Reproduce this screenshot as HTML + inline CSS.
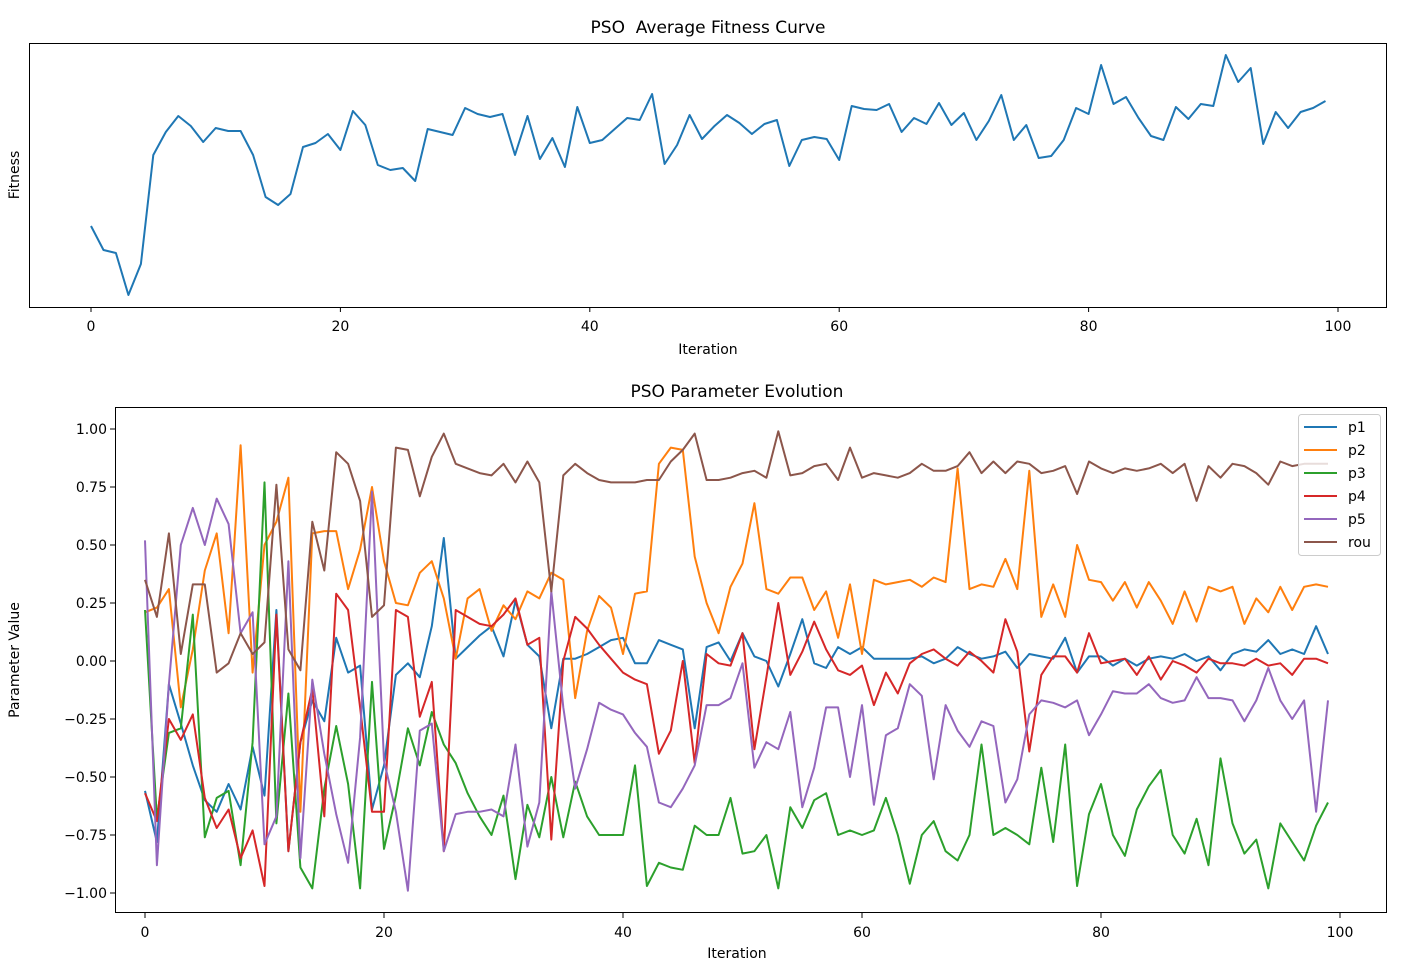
<!DOCTYPE html>
<html><head><meta charset="utf-8"><style>
body{margin:0;background:#fff}
svg text{font-family:"DejaVu Sans","Liberation Sans",sans-serif;fill:#000}
</style></head><body>
<svg id="s" width="1419" height="969" xmlns="http://www.w3.org/2000/svg"></svg>
<script>
const S=document.getElementById('s');let h='';
const fit=[226,250,253,295,264,155,132,116,126,142,128,131,131,155,197,205,194,147,143,134,150,111,125,165,170,168,181,129,132,135,108,114,117,114,155,116,159,138,167,107,143,140,129,118,120,94,164,145,115,139,126,115,123,134,124,120,166,140,137,139,160,106,109,110,104,132,118,124,103,125,113,140,121,95,140,125,158,156,140,108,114,65,104,97,118,136,140,107,119,104,106,55,82,68,144,112,128,112,108,101];
h+='<rect x="29.5" y="43.5" width="1357" height="264" fill="none" stroke="#000" stroke-width="1"/>';
h+='<polyline fill="none" stroke="#1f77b4" stroke-width="2" stroke-linejoin="round" points="'+fit.map((v,i)=>(91+i*12.47).toFixed(1)+','+v).join(' ')+'"/>';
for(let k=0;k<=5;k++){const x=91+k*249.4;h+=`<line x1="${x}" y1="307" x2="${x}" y2="312" stroke="#000"/><text x="${x}" y="331" font-size="14" text-anchor="middle">${k*20}</text>`;}
h+='<text x="708" y="33" font-size="17" text-anchor="middle">PSO&#160; Average Fitness Curve</text>';
h+='<text x="708" y="354" font-size="14" text-anchor="middle">Iteration</text>';
h+='<text transform="translate(19,175) rotate(-90)" font-size="14" text-anchor="middle">Fitness</text>';
const D={
p1:[-0.56,-0.78,-0.10,-0.27,-0.45,-0.60,-0.65,-0.53,-0.64,-0.37,-0.58,0.22,-0.82,-0.35,-0.17,-0.26,0.10,-0.05,-0.02,-0.64,-0.45,-0.06,-0.01,-0.07,0.15,0.53,0.01,0.06,0.11,0.15,0.02,0.26,0.07,0.02,-0.29,0.01,0.01,0.03,0.06,0.09,0.10,-0.01,-0.01,0.09,0.07,0.05,-0.29,0.06,0.08,0.00,0.12,0.02,0.00,-0.11,0.03,0.18,-0.01,-0.03,0.06,0.03,0.06,0.01,0.01,0.01,0.01,0.02,-0.01,0.01,0.06,0.03,0.01,0.02,0.04,-0.03,0.03,0.02,0.01,0.10,-0.05,0.02,0.02,-0.02,0.01,-0.02,0.01,0.02,0.01,0.03,0.00,0.02,-0.04,0.03,0.05,0.04,0.09,0.03,0.05,0.03,0.15,0.03],
p2:[0.21,0.23,0.31,-0.20,0.05,0.39,0.55,0.12,0.93,-0.05,0.50,0.60,0.79,-0.65,0.55,0.56,0.56,0.31,0.48,0.75,0.43,0.25,0.24,0.38,0.43,0.27,0.01,0.27,0.31,0.13,0.24,0.18,0.30,0.27,0.38,0.35,-0.16,0.13,0.28,0.23,0.03,0.29,0.30,0.85,0.92,0.91,0.45,0.25,0.12,0.32,0.42,0.68,0.31,0.29,0.36,0.36,0.22,0.30,0.10,0.33,0.03,0.35,0.33,0.34,0.35,0.32,0.36,0.34,0.83,0.31,0.33,0.32,0.44,0.31,0.82,0.19,0.33,0.19,0.50,0.35,0.34,0.26,0.34,0.23,0.34,0.26,0.16,0.30,0.17,0.32,0.30,0.32,0.16,0.27,0.21,0.32,0.22,0.32,0.33,0.32],
p3:[0.22,-0.68,-0.31,-0.29,0.20,-0.76,-0.59,-0.56,-0.88,-0.35,0.77,-0.70,-0.14,-0.89,-0.98,-0.55,-0.28,-0.53,-0.98,-0.09,-0.81,-0.58,-0.29,-0.45,-0.22,-0.36,-0.44,-0.57,-0.67,-0.75,-0.58,-0.94,-0.62,-0.76,-0.50,-0.76,-0.52,-0.67,-0.75,-0.75,-0.75,-0.45,-0.97,-0.87,-0.89,-0.90,-0.71,-0.75,-0.75,-0.59,-0.83,-0.82,-0.75,-0.98,-0.63,-0.72,-0.60,-0.57,-0.75,-0.73,-0.75,-0.73,-0.59,-0.75,-0.96,-0.75,-0.69,-0.82,-0.86,-0.75,-0.36,-0.75,-0.72,-0.75,-0.79,-0.46,-0.78,-0.36,-0.97,-0.66,-0.53,-0.75,-0.84,-0.64,-0.54,-0.47,-0.75,-0.83,-0.68,-0.88,-0.42,-0.70,-0.83,-0.77,-0.98,-0.70,-0.78,-0.86,-0.71,-0.61],
p4:[-0.57,-0.69,-0.25,-0.34,-0.23,-0.59,-0.72,-0.64,-0.85,-0.73,-0.97,0.20,-0.82,-0.35,-0.12,-0.67,0.29,0.22,-0.20,-0.65,-0.65,0.22,0.19,-0.24,-0.09,-0.82,0.22,0.19,0.16,0.15,0.20,0.27,0.07,0.10,-0.77,0.00,0.19,0.14,0.07,0.01,-0.05,-0.08,-0.10,-0.40,-0.30,0.00,-0.44,0.03,-0.01,-0.02,0.12,-0.38,-0.07,0.25,-0.06,0.04,0.17,0.05,-0.04,-0.06,-0.02,-0.19,-0.05,-0.14,-0.01,0.03,0.05,0.01,-0.02,0.04,0.00,-0.05,0.18,0.04,-0.39,-0.06,0.02,0.02,-0.05,0.12,-0.01,0.00,0.01,-0.06,0.02,-0.08,0.00,-0.02,-0.05,0.01,-0.01,-0.01,-0.02,0.01,-0.02,-0.01,-0.06,0.01,0.01,-0.01],
p5:[0.52,-0.88,-0.10,0.50,0.66,0.50,0.70,0.59,0.12,0.21,-0.79,-0.67,0.43,-0.85,-0.08,-0.40,-0.66,-0.87,-0.33,0.73,-0.43,-0.65,-0.99,-0.30,-0.27,-0.82,-0.66,-0.65,-0.65,-0.64,-0.67,-0.36,-0.80,-0.61,0.30,-0.20,-0.55,-0.38,-0.18,-0.21,-0.23,-0.31,-0.37,-0.61,-0.63,-0.55,-0.45,-0.19,-0.19,-0.16,-0.01,-0.46,-0.35,-0.38,-0.22,-0.63,-0.46,-0.20,-0.20,-0.50,-0.19,-0.62,-0.32,-0.29,-0.10,-0.15,-0.51,-0.19,-0.30,-0.37,-0.26,-0.28,-0.61,-0.51,-0.23,-0.17,-0.18,-0.20,-0.17,-0.32,-0.23,-0.13,-0.14,-0.14,-0.10,-0.16,-0.18,-0.17,-0.07,-0.16,-0.16,-0.17,-0.26,-0.17,-0.03,-0.17,-0.25,-0.17,-0.65,-0.17],
rou:[0.35,0.19,0.55,0.03,0.33,0.33,-0.05,-0.01,0.12,0.03,0.08,0.76,0.05,-0.04,0.60,0.39,0.90,0.85,0.69,0.19,0.24,0.92,0.91,0.71,0.88,0.98,0.85,0.83,0.81,0.80,0.85,0.77,0.86,0.77,0.30,0.80,0.85,0.81,0.78,0.77,0.77,0.77,0.78,0.78,0.86,0.91,0.98,0.78,0.78,0.79,0.81,0.82,0.79,0.99,0.80,0.81,0.84,0.85,0.78,0.92,0.79,0.81,0.80,0.79,0.81,0.85,0.82,0.82,0.84,0.90,0.81,0.86,0.81,0.86,0.85,0.81,0.82,0.84,0.72,0.86,0.83,0.81,0.83,0.82,0.83,0.85,0.81,0.85,0.69,0.84,0.79,0.85,0.84,0.81,0.76,0.86,0.84,0.85,0.85,0.85]};
const C={p1:'#1f77b4',p2:'#ff7f0e',p3:'#2ca02c',p4:'#d62728',p5:'#9467bd',rou:'#8c564b'};
h+='<rect x="115.5" y="407.5" width="1271" height="505" fill="none" stroke="#000"/>';
for(const k in D){h+='<polyline fill="none" stroke="'+C[k]+'" stroke-width="2" stroke-linejoin="round" points="'+D[k].map((v,i)=>(145+i*11.95).toFixed(1)+','+(661-v*232).toFixed(1)).join(' ')+'"/>';}
for(let k=0;k<=5;k++){const x=145+k*239;h+=`<line x1="${x}" y1="913" x2="${x}" y2="918" stroke="#000"/><text x="${x}" y="937" font-size="14" text-anchor="middle">${k*20}</text>`;}
for(let k=-4;k<=4;k++){const v=k*0.25,y=661-v*232;h+=`<line x1="110" y1="${y}" x2="115" y2="${y}" stroke="#000"/><text x="107" y="${y+5}" font-size="14" text-anchor="end">${v<0?'\u2212':''}${Math.abs(v).toFixed(2)}</text>`;}
h+='<text x="737" y="397" font-size="17" text-anchor="middle">PSO Parameter Evolution</text>';
h+='<text x="737" y="958" font-size="14" text-anchor="middle">Iteration</text>';
h+='<text transform="translate(19,660) rotate(-90)" font-size="14" text-anchor="middle">Parameter Value</text>';
h+='<rect x="1298.5" y="414.5" width="82" height="141" rx="3" fill="#fff" fill-opacity="0.8" stroke="#ccc"/>';
Object.keys(C).forEach((k,i)=>{const y=427+i*23;h+=`<line x1="1304" y1="${y}" x2="1337" y2="${y}" stroke="${C[k]}" stroke-width="2"/><text x="1348" y="${y+5}" font-size="14">${k}</text>`;});
S.innerHTML=h;
</script>
</body></html>
